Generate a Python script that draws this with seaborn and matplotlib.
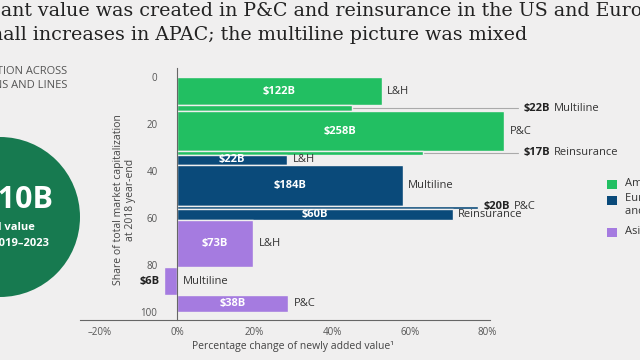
import matplotlib
matplotlib.use("Agg")
import matplotlib.pyplot as plt
import seaborn as sns
import numpy as np
from matplotlib.patches import Ellipse, Rectangle

# ---------------- data ----------------
regions = ["Americas", "Americas", "Americas", "Americas",
           "Europe, Middle East,\nand Africa", "Europe, Middle East,\nand Africa",
           "Europe, Middle East,\nand Africa", "Europe, Middle East,\nand Africa",
           "Asia–Pacific", "Asia–Pacific", "Asia–Pacific"]
lines = ["L&H", "Multiline", "P&C", "Reinsurance",
         "L&H", "Multiline", "P&C", "Reinsurance",
         "L&H", "Multiline", "P&C"]
share = [12, 2.5, 17, 1.5, 4.5, 17.5, 1, 5, 20, 12, 7]          # share of market cap, %
pct_change = [52.8, 45.1, 84.3, 63.4, 28.4, 58.2, 77.6, 71.1, 19.6, -3.4, 28.6]
value_b = [122, 22, 258, 17, 22, 184, 20, 60, 73, 6, 38]         # $B of value created
region_order = ["Americas", "Europe, Middle East,\nand Africa", "Asia–Pacific"]
x_ticks = [-20, 0, 20, 40, 60, 80]
x_ticklabels = ["–20%", "0%", "20%", "40%", "60%", "80%"]
y_ticks = [0, 20, 40, 60, 80, 100]

title_line1 = "Significant value was created in P&C and reinsurance in the US and Europe,"
title_line2 = "with small increases in APAC; the multiline picture was mixed"
panel_lines = ["VALUE CREATION ACROSS", "REGIONS AND LINES"]
circle_big = "$410B"
circle_small = ["Total value", "created 2019–2023"]
ylabel = "Share of total market capitalization\nat 2018 year-end"
xlabel = "Percentage change of newly added value¹"

# ---------------- style ----------------
BG = "#f0efef"
palette = dict(zip(region_order, ["#22bf62", "#0a4a7a", "#a57be0"]))
sns.set_theme(style="white", rc={"figure.facecolor": BG, "axes.facecolor": BG})
plt.rcParams["font.family"] = ["Open Sans", "DejaVu Sans"]

W, H = 640, 360
fig = plt.figure(figsize=(W / 100, H / 100), dpi=100)
fig.patch.set_facecolor(BG)

def fx(p):
    return p / W

def fy(p):
    return 1 - p / H

ax = fig.add_axes([fx(80), 40 / H, 446 / W, 252.1 / H])
ax.set_facecolor(BG)
ax.set_xlim(-25, 90)
ax.set_ylim(103.5, -4)

share_arr = np.array(share, dtype=float)
tops = np.cumsum(share_arr) - share_arr
centers = tops + share_arr / 2
colors = [palette[r] for r in regions]

ax.barh(centers, pct_change, height=share_arr, left=0, color=colors,
        edgecolor=BG, linewidth=1.0, clip_on=False, zorder=2)

# spines / ticks
sns.despine(ax=ax, top=True, right=True)
ax.spines["left"].set_position(("data", 0))
ax.spines["left"].set_color("#666666")
ax.spines["left"].set_linewidth(0.8)
ax.spines["left"].set_zorder(3)
ax.spines["bottom"].set_color("#666666")
ax.spines["bottom"].set_linewidth(0.8)
ax.spines["bottom"].set_bounds(-25, 80.7)
ax.set_xticks(x_ticks)
ax.set_xticklabels(x_ticklabels)
ax.set_yticks(y_ticks)
ax.tick_params(axis="x", length=0, pad=5, labelsize=7, labelcolor="#555555")
ax.tick_params(axis="y", length=0, pad=14, labelsize=7, labelcolor="#555555")
ax.set_xlabel("")
ax.set_ylabel("")

# bar labels
lead_x = 87.9
for i in range(len(lines)):
    c, v, s = centers[i], pct_change[i], share[i]
    vtxt = f"${value_b[i]}B"
    if v < 0:
        ax.annotate(vtxt, xy=(v, c), xytext=(-3, 0), textcoords="offset points",
                    ha="right", va="center", fontsize=8, fontweight="bold", color="#222222")
        ax.annotate(lines[i], xy=(0, c), xytext=(4, 0), textcoords="offset points",
                    ha="left", va="center", fontsize=8, color="#333333")
    elif s >= 3:
        ax.text(v / 2, c, vtxt, ha="center", va="center", fontsize=8,
                fontweight="bold", color="white", zorder=4)
        ax.annotate(lines[i], xy=(v, c), xytext=(4, 0), textcoords="offset points",
                    ha="left", va="center", fontsize=8, color="#333333")
    else:
        if regions[i] == "Americas":
            ax.plot([v, lead_x], [c, c], color="#aaaaaa", lw=0.8, clip_on=False, zorder=1)
            anchor = lead_x
            dy = 0
        else:
            anchor = v
            dy = 1
        t = ax.annotate(vtxt, xy=(anchor, c), xytext=(4, dy), textcoords="offset points",
                        ha="left", va="center", fontsize=8, fontweight="bold",
                        color="#222222", annotation_clip=False)
        ax.annotate(lines[i], xy=(1, 0), xycoords=t, xytext=(3, 0),
                    textcoords="offset points", ha="left", va="bottom",
                    fontsize=8, color="#333333")

# axis titles
fig.text(fx(124.5), fy(200), ylabel, rotation=90, ha="center", va="center",
         fontsize=7.5, color="#444444", multialignment="center", linespacing=1.25)
fig.text(fx(293), fy(346), xlabel, ha="center", va="center", fontsize=7.5, color="#444444")

# legend
leg_y = [184, 200, 232]
for reg, yy in zip(region_order, leg_y):
    fig.patches.append(Rectangle((fx(607), fy(yy + 4.5)), 10 / W, 9 / H,
                                 transform=fig.transFigure, facecolor=palette[reg],
                                 edgecolor="none"))
    if "\n" in reg:
        fig.text(fx(625), fy(yy - 7), reg, ha="left", va="top", fontsize=8,
                 color="#333333", linespacing=1.3)
    else:
        fig.text(fx(625), fy(yy), reg, ha="left", va="center", fontsize=8, color="#333333")

# left panel
fig.text(fx(67), fy(72), panel_lines[0], ha="right", va="center", fontsize=8, color="#555555")
fig.text(fx(67), fy(86), panel_lines[1], ha="right", va="center", fontsize=8, color="#555555")
fig.patches.append(Ellipse((0, fy(217)), 160 / W, 160 / H, transform=fig.transFigure,
                           facecolor="#177a50", edgecolor="none"))
fig.text(fx(54), fy(200), circle_big, ha="right", va="center", fontsize=22,
         fontweight="bold", color="white")
fig.text(fx(35), fy(228), circle_small[0], ha="right", va="center", fontsize=8,
         fontweight="bold", color="white")
fig.text(fx(49), fy(243), circle_small[1], ha="right", va="center", fontsize=8,
         fontweight="bold", color="white")

# title (cropped like the reference)
fig.canvas.draw()
rend = fig.canvas.get_renderer()

def text_w(s, size):
    t = fig.text(0, 0, s, family="DejaVu Serif", size=size)
    w = t.get_window_extent(rend).width
    t.remove()
    return w

visible = "ant value was created in P&C and reinsurance in the US and Euro"
fs = 16 * 641 / text_w(visible, 16)
full_w = text_w(title_line1, fs)
rest_w = text_w(title_line1[len("Signific"):], fs)
x0 = 1 - (full_w - rest_w)
fig.text(fx(x0), fy(16), title_line1, ha="left", va="baseline", family="DejaVu Serif",
         size=fs, color="#222222")
fig.text(fx(x0), fy(40), title_line2, ha="left", va="baseline", family="DejaVu Serif",
         size=fs, color="#222222")

fig.savefig("out.png", dpi=100, facecolor=BG)
